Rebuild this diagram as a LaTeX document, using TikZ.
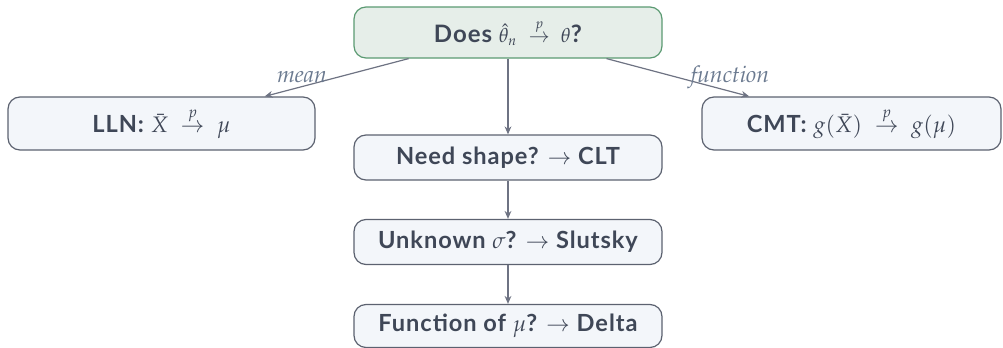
\documentclass[tikz,border=0pt]{standalone}
\usepackage{mathpazo}
\usepackage[no-math]{fontspec}
\setmainfont{Lato}[LetterSpace=4]
\DeclareMathSizes{12}{10}{7}{5}
\DeclareMathSizes{11.8}{11.2}{7.8}{5.5}
\DeclareMathSizes{11.5}{11.5}{8}{6}
\usetikzlibrary{arrows.meta}
\definecolor{txt}{HTML}{3F4757}
\definecolor{lab}{HTML}{6B7A90}
\definecolor{boxfill}{HTML}{F3F6FA}
\definecolor{boxdraw}{HTML}{5C6270}
\definecolor{topfill}{HTML}{E6EEE9}
\definecolor{topdraw}{HTML}{5B9A72}
\definecolor{conn}{HTML}{6E7383}
\tikzset{
  flowbox/.style={draw=boxdraw, fill=boxfill, rounded corners=6pt, line width=0.6pt,
    text=txt, font=\fontsize{11.8}{13}\selectfont\bfseries, inner sep=0pt, align=center},
  topbox/.style={flowbox, draw=topdraw, fill=topfill, font=\fontsize{12}{14}\selectfont\bfseries},
  conn/.style={draw=conn, line width=0.6pt, -{Stealth[length=4pt,width=3.4pt]}},
  edgelab/.style={text=lab, font=\fontsize{11.5}{13}\selectfont}
}
\begin{document}
\begin{tikzpicture}[x=0.5pt,y=-0.5pt]
\useasboundingbox (0,0) rectangle (1003,348);
\node[topbox, minimum width=154pt, minimum height=25.5pt] (top) at (508,32.5) {Does $\hat\theta_n\;\stackrel{p}{\to}\;\theta$?};
\node[flowbox, minimum width=153.5pt, minimum height=26.5pt] (lln) at (161.5,123.5) {LLN: $\bar X\;\stackrel{p}{\to}\;\mu$};
\node[flowbox, minimum width=149.5pt, minimum height=26.5pt] (cmt) at (851.5,123.5) {CMT: $g(\bar X)\;\stackrel{p}{\to}\;g(\mu)$};
\node[flowbox, minimum width=154pt, minimum height=22.5pt] (clt) at (508,157.5) {Need shape? $\to$ CLT};
\node[flowbox, minimum width=154pt, minimum height=22.5pt] (slut) at (508,242) {Unknown $\sigma$? $\to$ Slutsky};
\node[flowbox, minimum width=154pt, minimum height=21.5pt] (delta) at (508,326) {Function of $\mu$? $\to$ Delta};
\draw[conn] (top) -- (lln);
\draw[conn] (top) -- (cmt);
\draw[conn] (top) -- (clt);
\draw[conn] (clt) -- (slut);
\draw[conn] (slut) -- (delta);
\node[edgelab] (lmean) at (302,77) {$\mathit{mean}$};
\node[edgelab] (lfun) at (730,77) {$\mathit{function}$};
\end{tikzpicture}
\end{document}
